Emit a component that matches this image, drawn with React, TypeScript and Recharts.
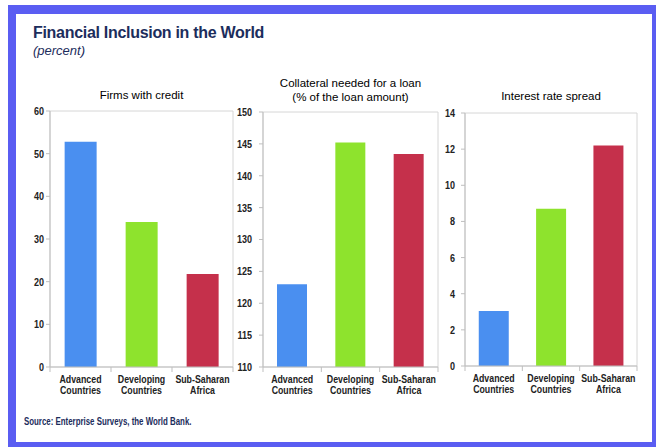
import React from "react";
import { Bar, BarChart, CartesianGrid, Cell, XAxis, YAxis } from "recharts";

const categories = ["Advanced\nCountries", "Developing\nCountries", "Sub-Saharan\nAfrica"];
const firmsWithCredit = [52.8, 34.0, 21.8];
const collateralNeeded = [123.0, 145.2, 143.4];
const interestRateSpread = [3.05, 8.7, 12.2];

const firmsTicks = [0, 10, 20, 30, 40, 50, 60];
const collateralTicks = [110, 115, 120, 125, 130, 135, 140, 145, 150];
const spreadTicks = [0, 2, 4, 6, 8, 10, 12, 14];

const barColors = ["#4a8ff0", "#8ee32d", "#c5304b"];

const NAVY = "#1c2d5c";
const AXIS = "#bfbfbf";
const SANS = "'Liberation Sans', Arial, sans-serif";

// the source chart uses a narrow bold face; squeeze Liberation Sans to match
function CategoryTick(props: any) {
  const { x, y, payload, index, visibleTicksCount, width } = props;
  const half = payload.offset ?? width / visibleTicksCount / 2;
  const lines = String(payload.value).split("\n");
  return (
    <g>
      <line x1={x - half} x2={x - half} y1={y} y2={y + 5} stroke={AXIS} />
      {index === visibleTicksCount - 1 && (
        <line x1={x + half} x2={x + half} y1={y} y2={y + 5} stroke={AXIS} />
      )}
      {lines.map((l, i) => (
        <text
          key={i}
          transform={`translate(${x},${y + 16 + i * 11}) scale(0.88,1)`}
          textAnchor="middle"
          fontFamily={SANS}
          fontWeight="bold"
          fontSize={10}
          fill="#222"
        >
          {l}
        </text>
      ))}
    </g>
  );
}

function ValueTick(props: any) {
  const { x, y, payload } = props;
  return (
    <text
      transform={`translate(${x},${y}) scale(0.82,1)`}
      textAnchor="end"
      dy="0.36em"
      fontFamily={SANS}
      fontWeight="bold"
      fontSize={11}
      fill="#222"
    >
      {payload.value}
    </text>
  );
}

type PanelProps = {
  values: number[];
  ticks: number[];
  left: number;
  top: number;
  width: number;
  height: number;
  yWidth: number;
  tickMargin: number;
};

function Panel({ values, ticks, left, top, width, height, yWidth, tickMargin }: PanelProps) {
  const data = categories.map((c, i) => ({ name: c, value: values[i] }));
  return (
    <div style={{ position: "absolute", left, top }}>
      <BarChart width={width} height={height} data={data} margin={{ top: 5, right: 5, left: 0, bottom: 0 }} barCategoryGap="24%">
        <CartesianGrid
          stroke="#d6d6d6"
          horizontalCoordinatesGenerator={({ offset }: any) => [offset.top, offset.top + offset.height]}
          verticalCoordinatesGenerator={({ offset }: any) => [offset.left, offset.left + offset.width]}
        />
        <XAxis dataKey="name" interval={0} height={30} tickSize={0} tickMargin={0} axisLine={{ stroke: AXIS }} tickLine={false} tick={<CategoryTick />} />
        <YAxis
          domain={[ticks[0], ticks[ticks.length - 1]]}
          ticks={ticks}
          width={yWidth}
          interval={0}
          tickSize={4}
          tickMargin={tickMargin}
          axisLine={{ stroke: AXIS }}
          tickLine={{ stroke: AXIS }}
          tick={<ValueTick />}
        />
        <Bar dataKey="value" isAnimationActive={false}>
          {data.map((d, i) => (
            <Cell key={d.name} fill={barColors[i]} />
          ))}
        </Bar>
      </BarChart>
    </div>
  );
}

const titleStyle: React.CSSProperties = {
  position: "absolute",
  fontFamily: SANS,
  fontSize: 11.5,
  color: "#000",
  textAlign: "center",
  lineHeight: "14px",
};

export default function App() {
  return (
    <div style={{ position: "absolute", left: 0, top: 0, width: 656, height: 447, overflow: "hidden", background: "#fff" }}>
      <div
        style={{
          position: "absolute",
          left: 8,
          top: 5,
          width: 652,
          height: 445,
          boxSizing: "border-box",
          border: "8px solid #5a5df2",
          borderTopWidth: 9,
          background: "#fff",
        }}
      />
      <div
        style={{
          position: "absolute",
          left: 33,
          top: 24,
          fontFamily: SANS,
          fontWeight: "bold",
          fontSize: 16,
          letterSpacing: -0.3,
          color: NAVY,
        }}
      >
        Financial Inclusion in the World
      </div>
      <div style={{ position: "absolute", left: 33, top: 43, fontFamily: SANS, fontStyle: "italic", fontSize: 13, color: NAVY }}>
        (percent)
      </div>

      <div style={{ ...titleStyle, left: 50, width: 183, top: 88 }}>Firms with credit</div>
      <div style={{ ...titleStyle, left: 263, width: 175, top: 76 }}>
        Collateral needed for a loan
        <br />
        (% of the loan amount)
      </div>
      <div style={{ ...titleStyle, left: 465, width: 172, top: 89 }}>Interest rate spread</div>

      <Panel values={firmsWithCredit} ticks={firmsTicks} left={10} top={106} width={228} height={291} yWidth={40} tickMargin={2} />
      <Panel values={collateralNeeded} ticks={collateralTicks} left={213} top={107} width={230} height={290} yWidth={50} tickMargin={7} />
      <Panel values={interestRateSpread} ticks={spreadTicks} left={425} top={108} width={217} height={288} yWidth={40} tickMargin={6} />

      <div
        style={{
          position: "absolute",
          left: 24,
          top: 415,
          fontFamily: SANS,
          fontWeight: "bold",
          fontSize: 10.5,
          color: NAVY,
          whiteSpace: "nowrap",
          transform: "scaleX(0.75)",
          transformOrigin: "left top",
        }}
      >
        Source: Enterprise Surveys, the World Bank.
      </div>
    </div>
  );
}
